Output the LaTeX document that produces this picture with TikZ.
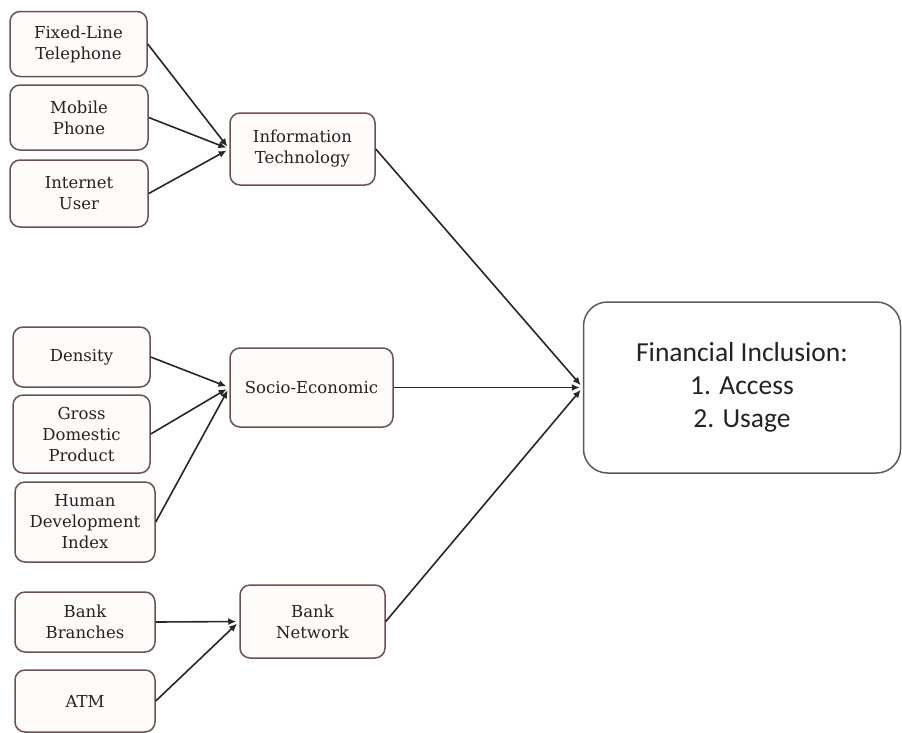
\documentclass[tikz,border=0pt]{standalone}
\usepackage{fontspec}
\setmainfont{DejaVu Serif}
\newfontfamily\calfont{Carlito}
\usetikzlibrary{arrows.meta}
\definecolor{boxline}{RGB}{105,82,82}
\definecolor{boxfill}{RGB}{255,251,251}
\definecolor{txt}{RGB}{35,35,35}
\definecolor{bigline}{RGB}{90,90,90}
\tikzset{
  smallbox/.style={draw=boxline, fill=boxfill, line width=1.5pt, rounded corners=10pt,
    align=center, text=txt, inner sep=0pt,
    font=\fontsize{16.5pt}{21pt}\selectfont},
  bigbox/.style={draw=bigline, fill=white, line width=1.5pt, rounded corners=24pt,
    align=center, text=txt, inner sep=0pt,
    font=\calfont\fontsize{27.5pt}{33pt}\selectfont},
  conn/.style={draw=black!85, line width=1.6pt, -{Latex[length=8pt,width=7pt]}, shorten >=3pt}
}
\begin{document}
\begin{tikzpicture}[x=1pt,y=-1pt]
\useasboundingbox (0,0) rectangle (902,732);
\node[smallbox, minimum width=137pt, minimum height=65pt] (flt) at (78.5,44) {Fixed-Line\\Telephone};
\node[smallbox, minimum width=138pt, minimum height=65pt] (mob) at (79,117.5) {Mobile\\Phone};
\node[smallbox, minimum width=138pt, minimum height=67pt] (inet) at (79,193.5) {Internet\\User};
\node[smallbox, minimum width=145pt, minimum height=72pt] (it) at (302.5,149) {Information\\Technology};

\node[smallbox, minimum width=137pt, minimum height=60pt] (den) at (81.5,357) {Density};
\node[smallbox, minimum width=137pt, minimum height=78pt] (gdp) at (81.5,434) {Gross\\Domestic\\Product};
\node[smallbox, minimum width=140pt, minimum height=80pt] (hdi) at (85,522) {Human\\Development\\Index};
\node[smallbox, minimum width=163pt, minimum height=79pt] (soc) at (311.5,387.5) {Socio-Economic};

\node[smallbox, minimum width=140pt, minimum height=60pt] (bb) at (85,622) {Bank\\Branches};
\node[smallbox, minimum width=140pt, minimum height=62pt] (atm) at (85,701) {ATM};
\node[smallbox, minimum width=145pt, minimum height=73pt] (bn) at (312.5,621.5) {Bank\\Network};

\node[bigbox, minimum width=317pt, minimum height=171pt] (fi) at (742,387.5) {Financial Inclusion:\\1. Access\\2. Usage};

\draw[conn] (flt.east) -- (it.west);
\draw[conn] (mob.east) -- (it.west);
\draw[conn] (inet.east) -- (it.west);
\draw[conn] (den.east) -- (soc.west);
\draw[conn] (gdp.east) -- (soc.west);
\draw[conn] (hdi.east) -- (soc.west);
\draw[conn] (bb.east) -- (bn.west);
\draw[conn] (atm.east) -- (bn.west);
\draw[conn] (it.east) -- (fi.west);
\draw[conn] (soc.east) -- (fi.west);
\draw[conn] (bn.east) -- (fi.west);
\end{tikzpicture}
\end{document}
